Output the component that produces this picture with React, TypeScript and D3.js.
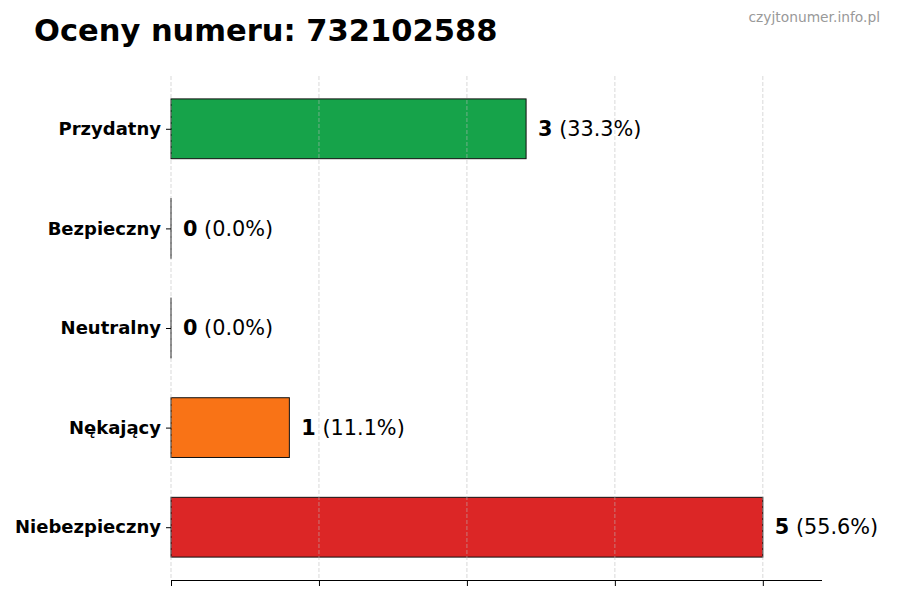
import * as d3 from "d3";
import { useEffect, useRef } from "react";

const WIDTH = 900;
const HEIGHT = 600;

// ratings, bottom to top
const categories = ["Niebezpieczny", "Nękający", "Neutralny", "Bezpieczny", "Przydatny"];
const counts = [5, 1, 0, 0, 3];
const percents = ["55.6%", "11.1%", "0.0%", "0.0%", "33.3%"];
const colors = ["#dc2626", "#f97316", "#6b7280", "#3b82f6", "#16a34a"];
const xTicks = [0, 1.25, 2.5, 3.75, 5];

export default function App() {
  const ref = useRef<SVGSVGElement>(null);

  useEffect(() => {
    const svg = d3.select(ref.current);
    svg.selectAll("*").remove();

    const x = d3.scaleLinear().domain([0, 5.5]).range([171, 822]);
    const y = d3.scaleLinear().domain([-0.53, 4.53]).range([580, 76]);
    const barH = y(0) - y(0.6);

    // słupki
    svg
      .append("g")
      .selectAll("rect")
      .data(counts)
      .join("rect")
      .attr("x", x(0))
      .attr("y", (_, i) => y(i + 0.3))
      .attr("width", (d) => Math.max(x(d) - x(0), 0.01))
      .attr("height", barH)
      .attr("fill", (_, i) => colors[i])
      .attr("stroke", "#111")
      .attr("stroke-width", 1);

    // siatka
    svg
      .append("g")
      .selectAll("line")
      .data(xTicks)
      .join("line")
      .attr("x1", (d) => x(d))
      .attr("x2", (d) => x(d))
      .attr("y1", 76)
      .attr("y2", 580)
      .attr("stroke", "#bbb")
      .attr("stroke-opacity", 0.7)
      .attr("stroke-width", 0.8)
      .attr("stroke-dasharray", "4,2");

    // oś X
    const xAxis = svg
      .append("g")
      .attr("transform", "translate(0,580)")
      .call(d3.axisBottom(x).tickValues(xTicks).tickSize(6).tickFormat(() => ""));
    xAxis.select(".domain").attr("stroke", "#000").attr("d", "M171,0.5H822");
    xAxis.selectAll(".tick line").attr("stroke", "#000");

    // oś Y
    const yAxis = svg
      .append("g")
      .attr("transform", "translate(171,0)")
      .call(
        d3
          .axisLeft(y)
          .tickValues(d3.range(categories.length))
          .tickSize(5)
          .tickPadding(5)
          .tickFormat((d) => categories[d as number])
      );
    yAxis.select(".domain").remove();
    yAxis.selectAll(".tick line").attr("stroke", "#000");
    yAxis
      .selectAll(".tick text")
      .attr("font-family", "DejaVu Sans")
      .attr("font-weight", "bold")
      .attr("font-size", 18)
      .attr("fill", "#000");

    // etykiety wartości
    const labels = svg
      .append("g")
      .selectAll("text")
      .data(counts)
      .join("text")
      .attr("x", (d) => x(d) + 12)
      .attr("y", (_, i) => y(i))
      .attr("dy", "0.35em")
      .attr("font-family", "DejaVu Sans")
      .attr("font-size", 20.8)
      .attr("fill", "#000");
    labels
      .append("tspan")
      .attr("font-weight", "bold")
      .text((d) => String(d));
    labels.append("tspan").text((_, i) => ` (${percents[i]})`);

    svg
      .append("text")
      .attr("x", 34)
      .attr("y", 41)
      .attr("font-family", "DejaVu Sans")
      .attr("font-weight", "bold")
      .attr("font-size", 30.5)
      .attr("fill", "#000")
      .text("Oceny numeru: 732102588");

    svg
      .append("text")
      .attr("x", 880)
      .attr("y", 22)
      .attr("text-anchor", "end")
      .attr("font-family", "DejaVu Sans")
      .attr("font-size", 13.8)
      .attr("fill", "#999")
      .text("czyjtonumer.info.pl");
  }, []);

  return (
    <svg
      ref={ref}
      width={WIDTH}
      height={HEIGHT}
      style={{ position: "absolute", left: 0, top: 0, background: "#fff" }}
    />
  );
}
